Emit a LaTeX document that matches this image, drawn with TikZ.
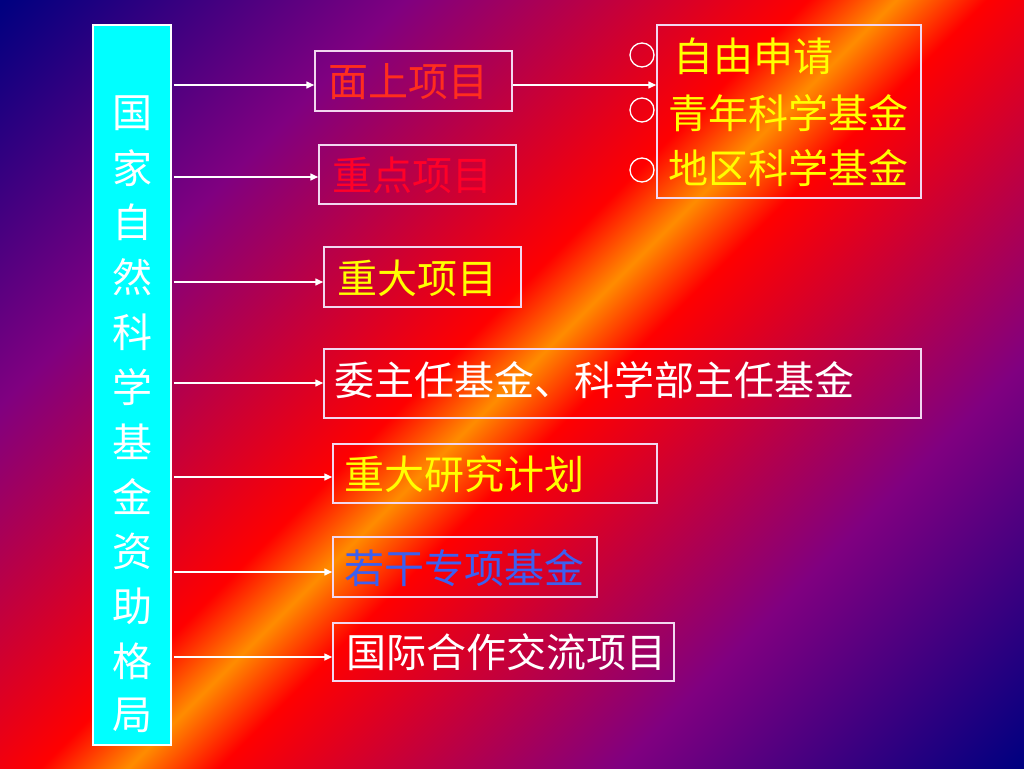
\documentclass[tikz,border=0pt]{standalone}
\usepackage{fontspec}
\setmainfont{Noto Sans CJK SC}
\usetikzlibrary{arrows.meta}
\definecolor{bgnavy}{RGB}{0,0,128}
\definecolor{bgpurple}{RGB}{128,0,128}
\definecolor{bgred}{RGB}{255,0,0}
\definecolor{bgorange}{RGB}{255,140,0}
\definecolor{boxline}{RGB}{242,215,240}
\definecolor{fundcyan}{RGB}{0,255,255}
\definecolor{txtred}{RGB}{255,45,30}
\definecolor{txtred2}{RGB}{255,0,40}
\definecolor{txtyellow}{RGB}{255,255,0}
\definecolor{txtblue}{RGB}{60,95,240}
\pgfdeclarehorizontalshading{bgshade}{100bp}{color(0bp)=(bgnavy); color(14.64bp)=(bgnavy); color(30.55bp)=(bgpurple); color(46.5bp)=(bgred); color(50bp)=(bgorange); color(53.6bp)=(bgred); color(69.45bp)=(bgpurple); color(85.36bp)=(bgnavy); color(100bp)=(bgnavy)}
\begin{document}
\begin{tikzpicture}[x=1pt,y=-1pt,
  box/.style={draw=boxline, line width=1.5pt, rectangle, inner sep=0pt},
  lbl/.style={anchor=west, inner sep=0pt, font=\fontsize{40}{48}\selectfont},
  vchar/.style={inner sep=0pt, text=white, font=\fontsize{40}{48}\selectfont},
  arr/.style={draw=white, line width=1.5pt, -{Triangle[length=8pt,width=7pt]}},
  ring/.style={circle, draw=white, line width=1.3pt, minimum size=24pt, inner sep=0pt}]
\useasboundingbox (0,0) rectangle (1024,768);
\shade[shading=bgshade, shading angle=-45] (0,0) rectangle (1024,768);
% left cyan column
\node[box, draw=white, fill=fundcyan, minimum width=78pt, minimum height=720pt] (fund) at (132,385) {};
\foreach \ch [count=\i] in {国,家,自,然,科,学,基,金,资,助,格,局}
  \node[vchar] (v\i) at (132,{113+54.8*(\i-1)}) {\ch};
% boxes
\node[box, minimum width=197pt, minimum height=60pt] (b1) at (413.5,81) {};
\node[box, minimum width=197pt, minimum height=59pt] (b2) at (417.5,174.5) {};
\node[box, minimum width=197pt, minimum height=60pt] (b3) at (422.5,277) {};
\node[box, minimum width=597pt, minimum height=69pt] (b4) at (622.5,383.5) {};
\node[box, minimum width=324pt, minimum height=59pt] (b5) at (495,473.5) {};
\node[box, minimum width=264pt, minimum height=60pt] (b6) at (465,567) {};
\node[box, minimum width=341pt, minimum height=58pt] (b7) at (503.5,652) {};
\node[box, minimum width=264pt, minimum height=173pt] (br) at (789,111.5) {};
% labels
\node[lbl, text=txtred] (t1) at (328,82) {面上项目};
\node[lbl, text=txtred2] (t2) at (332,175) {重点项目};
\node[lbl, text=txtyellow] (t3) at (337,278) {重大项目};
\node[lbl, text=white] (t4) at (334,380) {委主任基金、科学部主任基金};
\node[lbl, text=txtyellow] (t5) at (344,474) {重大研究计划};
\node[lbl, text=txtblue] (t6) at (344,568) {若干专项基金};
\node[lbl, text=white] (t7) at (346,652) {国际合作交流项目};
\node[lbl, text=txtyellow] (r1) at (673,56) {自由申请};
\node[lbl, text=txtyellow] (r2) at (668,113) {青年科学基金};
\node[lbl, text=txtyellow] (r3) at (668,168) {地区科学基金};
% circles
\node[ring] (c1) at (642,55) {};
\node[ring] (c2) at (642,110) {};
\node[ring] (c3) at (642,170) {};
% arrow levels
\coordinate (e1) at (315,85);
\coordinate (e2) at (319,177);
\coordinate (e3) at (324,282);
\coordinate (e4) at (324,383);
\coordinate (e5) at (333,477);
\coordinate (e6) at (333,572);
\coordinate (e7) at (333,657);
\foreach \k in {1,...,7}
  \draw[arr, shorten <=2pt] (fund.east |- e\k) -- (b\k.west |- e\k);
\draw[arr] (b1.east |- e1) -- (br.west |- e1);
\end{tikzpicture}
\end{document}
